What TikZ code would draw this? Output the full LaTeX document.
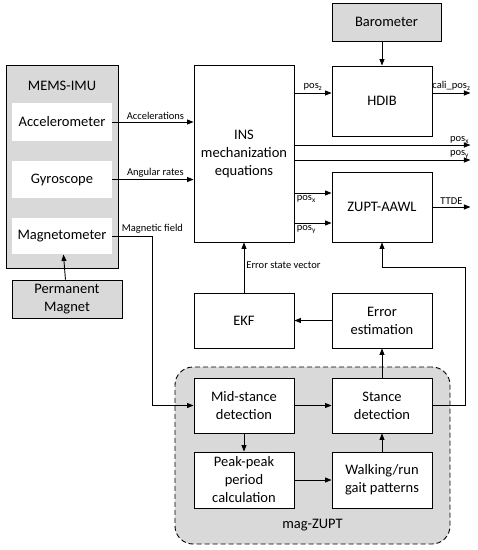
\documentclass[tikz,border=0pt]{standalone}
\usepackage{fontspec}
\setmainfont{Carlito}
\usetikzlibrary{arrows.meta,positioning}
\definecolor{boxgray}{RGB}{217,217,217}

\begin{document}
\begin{tikzpicture}[x=1pt, y=-1pt, >={Triangle[length=6.5pt,width=5pt]}, line width=0.9pt,
    blk/.style={draw, fill=white, align=center, inner sep=2pt,
                font=\fontsize{14.5}{18}\selectfont,
                minimum width=100pt, minimum height=55pt},
    lbl/.style={font=\fontsize{10.5}{12}\selectfont, inner sep=2pt}]
  \useasboundingbox (0,0) rectangle (478,550);

  % sensors
  \node[blk, fill=boxgray, minimum width=112pt, minimum height=203pt] (IMU) at (62,166.5) {};
  \node[font=\fontsize{14.5}{18}\selectfont] (IMUT) at ([yshift=-21pt]IMU.north) {MEMS-IMU};
  \node[blk, draw=none, minimum height=38pt] (ACC) at (62,122) {Accelerometer};
  \node[blk, draw=none, minimum height=37pt] (GYR) at (62,179.5) {Gyroscope};
  \node[blk, draw=none, minimum height=36pt] (MAG) at (62,236) {Magnetometer};
  \node[blk, fill=boxgray, minimum width=110pt, minimum height=38pt] (PM) at (67,299) {Permanent\\Magnet};
  \node[blk, fill=boxgray, minimum width=109pt, minimum height=38pt] (BAR) at (386.5,22) {Barometer};

  % INS and outputs
  \node[blk, minimum height=177pt] (INS) at (244,153.5) {INS\\mechanization\\equations};
  \node[blk, minimum height=70pt] (HDIB) at (382,101) {HDIB};
  \node[blk, minimum height=70pt] (ZUPT) at (382,207) {ZUPT-AAWL};
  \node[blk] (EKF) at (244,320.5) {EKF};
  \node[blk] (EE) at (382,320.5) {Error\\estimation};

  % mag-ZUPT
  \node[draw, fill=boxgray, dash pattern=on 5pt off 3pt, rounded corners=18pt,
        minimum width=275pt, minimum height=177pt] (MZ) at (312.5,455.5) {};
  \node[font=\fontsize{14.5}{18}\selectfont] (MZL) at ([yshift=19pt]MZ.south) {mag-ZUPT};
  \node[blk] (MS) at (244,405.5) {Mid-stance\\detection};
  \node[blk] (SD) at (382,405.5) {Stance\\detection};
  \node[blk, minimum height=56pt] (PP) at (244,480) {Peak-peak\\period\\calculation};
  \node[blk, minimum height=56pt] (WG) at (382,480) {Walking/run\\gait patterns};

  \coordinate (HZ) at ([yshift=8pt]HDIB.west);
  \coordinate (ZX) at ([yshift=14pt]ZUPT.west);
  \coordinate (ZY) at ([yshift=-16pt]ZUPT.west);
  \coordinate (FB) at (465,267);

  \draw[->] (PM) -- (MAG);
  \draw[->] (ACC.east) -- node[lbl, above, pos=0.53] {Accelerations} (ACC.east -| INS.west);
  \draw[->] (GYR.east) -- node[lbl, above, pos=0.53] {Angular rates} (GYR.east -| INS.west);
  \draw[->] (MAG.east) -- node[lbl, above, pos=1] {Magnetic field} ++(40,0) |- (MS.west);
  \draw[->] (BAR.south -| HDIB.north) -- (HDIB.north);
  \draw[->] (HZ -| INS.east) -- node[lbl, above] {pos\textsubscript{z}} (HZ);
  \draw[->] (HZ -| HDIB.east) -- node[lbl, above] {cali\_pos\textsubscript{z}} ++(38,0);
  \draw[->] ([yshift=8.5pt]INS.east) -- node[lbl, above left, pos=1, inner sep=1pt] {pos\textsubscript{x}} ++(176,0);
  \draw[->] ([yshift=-6.5pt]INS.east) -- node[lbl, above left, pos=1, inner sep=1pt] {pos\textsubscript{y}} ++(176,0);
  \draw[->] (ZX -| INS.east) -- node[lbl, below right, pos=0] {pos\textsubscript{x}} (ZX);
  \draw[->] (ZY -| INS.east) -- node[lbl, below right, pos=0] {pos\textsubscript{y}} (ZY);
  \draw[->] (ZUPT.east) -- node[lbl, above] {TTDE} ++(38,0);
  \draw[->] (EKF) -- node[lbl, right, pos=0.55] {Error state vector} (INS);
  \draw[->] (EE) -- (EKF);
  \draw[->] (SD) -- (EE);
  \draw[->] (MS) -- (SD);
  \draw[->] (MS) -- (PP);
  \draw[->] (PP) -- (WG);
  \draw[->] (WG) -- (SD);
  \draw[->] (SD.east) -| (FB) -| (ZUPT.south);
\end{tikzpicture}
\end{document}
